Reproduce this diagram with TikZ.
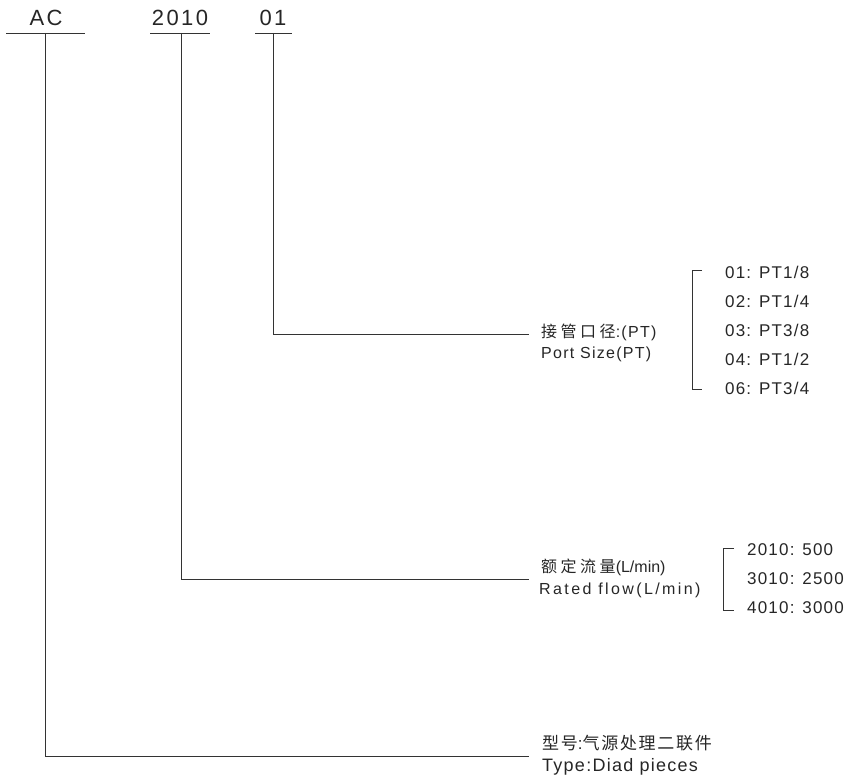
\documentclass[tikz,border=0pt]{standalone}
\usepackage{fontspec}
\setmainfont{Liberation Sans}
\newfontfamily\hdfont[LetterSpace=11]{Liberation Sans}
\newfontfamily\itfont[LetterSpace=7]{Liberation Sans}
\newfontfamily\lafont[LetterSpace=8]{Liberation Sans}
\newfontfamily\lbfont[LetterSpace=15]{Liberation Sans}
\newfontfamily\cjfont[LetterSpace=22]{Noto Sans CJK SC}
\newfontfamily\cjtfont[LetterSpace=10]{Noto Sans CJK SC}
\begin{document}
\begin{tikzpicture}[x=1pt,y=-1pt,
  ln/.style={line width=0.8pt,black!80},
  head/.style={font=\hdfont\fontsize{22}{22}\selectfont,inner sep=0pt,text=black!85},
  lbl/.style={font=\fontsize{16}{16}\selectfont,inner sep=0pt,anchor=west,text=black!85},
  item/.style={font=\itfont\fontsize{17}{17}\selectfont,inner sep=0pt,anchor=west,text=black!85}]
\useasboundingbox (0,0) rectangle (849,778);
% headings
\node[head] (ac) at (46,18) {AC};
\node[head] (m) at (180,18) {2010};
\node[head] (p) at (273,18) {01};
\coordinate (acL) at (6,33); \coordinate (acR) at (85,33);
\coordinate (mL) at (150,33); \coordinate (mR) at (210,33);
\coordinate (pL) at (255,33); \coordinate (pR) at (292,33);
\draw[ln] (acL) -- (acR);
\draw[ln] (mL) -- (mR);
\draw[ln] (pL) -- (pR);
\coordinate (acT) at (45,33); \coordinate (acB) at (45,756);
\coordinate (mT) at (181,33); \coordinate (mB) at (181,579);
\coordinate (pT) at (273,33); \coordinate (pB) at (273,334);
\coordinate (acE) at (529,756);
\coordinate (mE) at (529,579);
\coordinate (pE) at (529,334);
\draw[ln] (acT) -- (acB) -- (acE);
\draw[ln] (mT) -- (mB) -- (mE);
\draw[ln] (pT) -- (pB) -- (pE);
% port size
\node[lbl] (ps1) at (541,332) {{\cjfont 接管口径}{\lafont:(PT)}};
\node[lbl] (ps2) at (541,354) {\lafont Port Size(PT)};
\coordinate (b1a) at (702,270); \coordinate (b1b) at (692,270);
\coordinate (b1c) at (692,389); \coordinate (b1d) at (702,389);
\draw[ln] (b1a) -- (b1b) -- (b1c) -- (b1d);
\node[item] (i1) at (725,272) {01: PT1/8};
\node[item] (i2) at (725,301) {02: PT1/4};
\node[item] (i3) at (725,330) {03: PT3/8};
\node[item] (i4) at (725,359) {04: PT1/2};
\node[item] (i5) at (725,388) {06: PT3/4};
% rated flow
\node[lbl] (rf1) at (541,567) {{\cjfont 额定流量}(L/min)};
\node[lbl] (rf2) at (539,590) {\lbfont Rated flow(L/min)};
\coordinate (b2a) at (734,548); \coordinate (b2b) at (723,548);
\coordinate (b2c) at (723,610); \coordinate (b2d) at (734,610);
\draw[ln] (b2a) -- (b2b) -- (b2c) -- (b2d);
\node[item] (f1) at (747,550) {2010: 500};
\node[item] (f2) at (747,579) {3010: 2500};
\node[item] (f3) at (747,608) {4010: 3000};
% type
\node[lbl,font=\fontsize{17}{17}\selectfont] (t1) at (542,743) {{\cjtfont 型号}:{\cjtfont 气源处理二联件}};
\node[lbl,font=\fontsize{18}{18}\selectfont] (t2) at (542,767) {\itfont Type:Diad pieces};
\end{tikzpicture}
\end{document}
